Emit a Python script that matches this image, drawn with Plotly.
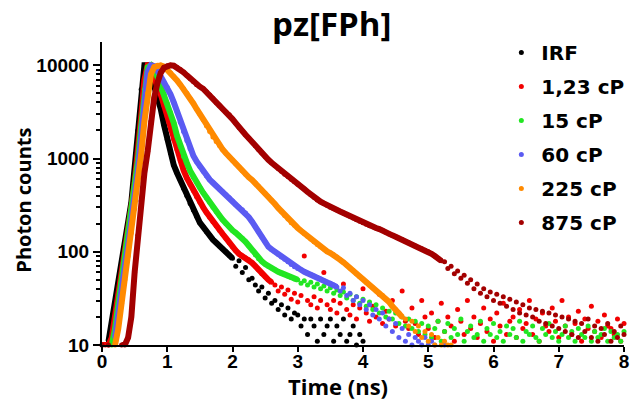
import plotly.graph_objects as go

time_ns = [round(i * 0.05, 2) for i in range(161)]

irf = ([None, None, 11, 18, 28, 45, 75, 120, 200, 340, 800, 2000, 5500, 10000, 10000, 8500, 6000, 4600, 3400, 2300]
       + [1600, 1150, 850, 700, 590, 480, 400, 330, 280, 240, 205, 185, 165, 150, 135, 125, 115, 108, 100, 92]
       + [85, 70, 80, 60, 68, 50, 52, 44, 38, 42, 32, 36, 28, 30, 24, 27, 21, 25, 19, 22]
       + [21, 16, 19, 13, 19, 16, 11, 19, 13, 16, 19, 11, 16, 13, 19, 11, 13, 16, 10, 13]
       + [11] + [None] * 19 + [None] * 60 + [None])

cp_1_23 = ([10, 10, 10, 12, 20, 35, 60, 100, 170, 300, 550, 1100, 2800, 7000, 10000, 10000, 7500, 5800, 4900, 3700]
           + [2800, 2100, 1600, 1250, 950, 750, 620, 530, 455, 390, 340, 300, 265, 235, 210, 190, 170, 155, 140, 125]
           + [113, 103, 95, 90, 86, 82, 76, 70, 64, 58, 54, 50, 47, 44, 38, 42, 35, 39, 31, 36]
           + [29, 34, 90, 30, 27, 33, 25, 30, 60, 27, 24, 30, 22, 28, 45, 24, 21, 27, 19, 25]
           + [40, 22, 18, 26, 20, 35, 17, 23, 19, 30, 16, 22, 38, 18, 15, 25, 17, 13, 30, 20]
           + [15, 22, 12, 18, 28, 14, 20, 16, 11, 24, 18, 13, 30, 15, 20, 12, 17, 25, 14, 19]
           + [11, 22, 16, 28, 13, 18, 20, 12, 24, 15, 17, 30, 13, 19, 11, 22, 16, 14, 25, 18]
           + [12, 30, 16, 20, 13, 17, 23, 11, 19, 15, 26, 14, 18, 12, 21, 16, 15, 13, 19, 11]
           + [17])

cp_15 = ([None, None, None, 10, 15, 28, 50, 90, 150, 260, 480, 950, 2200, 5500, 9500, 10000, 9000, 7500, 6000, 4900]
         + [3900, 3100, 2400, 1750, 1350, 1050, 900, 740, 630, 560, 490, 430, 380, 340, 300, 270, 245, 220, 200, 185]
         + [170, 160, 150, 140, 128, 116, 104, 93, 84, 79, 74, 70, 67, 64, 61, 59, 57, 55, 53, 51]
         + [50, 46, 49, 44, 47, 42, 45, 40, 43, 38, 41, 36, 39, 34, 37, 32, 35, 30, 33, 28]
         + [31, 26, 29, 24, 27, 22, 25, 20, 23, 19, 22, 17, 20, 16, 19, 15, 18, 14, 17, 13]
         + [16, 12, 15, 18, 11, 14, 17, 12, 15, 13, 19, 11, 14, 16, 12, 13, 18, 11, 15, 13]
         + [17, 12, 14, 11, 16, 13, 15, 12, 18, 11, 14, 13, 16, 12, 11, 15, 13, 17, 12, 14]
         + [11, 13, 16, 12, 14, 11, 15, 13, 12, 16, 11, 14, 12, 13, 15, 11, 14, 12, 13, 11]
         + [14])

cp_60 = ([None, None, None, None, 12, 20, 38, 70, 120, 210, 380, 750, 1700, 4200, 8500, 10000, 9800, 8800, 7600, 6600]
         + [5800, 4900, 4000, 3200, 2450, 1950, 1560, 1270, 1070, 930, 820, 730, 655, 595, 550, 510, 470, 440, 410, 380]
         + [350, 320, 300, 282, 260, 235, 210, 185, 165, 145, 127, 113, 106, 100, 94, 88, 83, 78, 73, 69]
         + [66, 64, 61, 59, 57, 55, 53, 51, 49, 47, 46, 44, 42, 38, 41, 34, 36, 30, 33, 27]
         + [30, 24, 27, 21, 24, 19, 22, 16, 19, 14, 17, 12, 15, 11, 13, 10, 12, 11, 10, 12]
         + [10, 11, 10, None, None, 10] + [None] * 14 + [None] * 40 + [None])

cp_225 = ([None, None, None, None, 10, 15, 28, 50, 90, 160, 290, 550, 1100, 2500, 5000, 8000, 9600, 10000, 10000, 9700]
          + [9000, 8300, 7600, 6900, 6200, 5600, 5000, 4400, 3900, 3400, 3000, 2600, 2250, 1950, 1700, 1520, 1380, 1250, 1140, 1040]
          + [960, 880, 810, 740, 680, 630, 590, 545, 500, 460, 425, 390, 355, 325, 295, 270, 245, 225, 205, 192]
          + [180, 168, 157, 147, 137, 128, 120, 113, 107, 101, 97, 93, 88, 82, 77, 72, 67, 63, 58, 54]
          + [51, 47, 44, 41, 38, 36, 34, 31, 29, 26, 24, 22, 20, 19, 16, 18, 14, 16, 12, 14]
          + [11, 13, 10, 12, 10, 11, 10, 10] + [None] * 12 + [None] * 40 + [None])

cp_875 = ([10, None, 10, None, None, None, 10, 10, 12, 20, 60, 150, 350, 700, 1200, 2500, 4500, 6500, 8300, 9400]
          + [9900, 10000, 9900, 9500, 9000, 8400, 7800, 7200, 6700, 6200, 5900, 5600, 5200, 4800, 4400, 4000, 3700, 3400, 3150, 2950]
          + [2650, 2400, 2150, 1970, 1800, 1650, 1500, 1370, 1250, 1150, 1050, 970, 900, 840, 780, 730, 680, 640, 600, 565]
          + [530, 500, 470, 440, 410, 385, 360, 345, 330, 315, 300, 290, 280, 270, 260, 250, 240, 230, 220, 212]
          + [205, 197, 190, 185, 180, 175, 170, 162, 155, 150, 145, 140, 135, 130, 125, 120, 115, 111, 108, 104]
          + [100, 95, 90, 85, 80, 78, 66, 70, 58, 62, 52, 56, 46, 50, 40, 45, 36, 40, 33, 37]
          + [30, 35, 28, 33, 26, 31, 24, 29, 22, 27, 21, 25, 20, 24, 18, 23, 17, 22, 16, 21]
          + [15, 20, 14, 19, 13, 18, 12, 17, 14, 19, 12, 16, 11, 15, 13, 17, 11, 14, 12, 16]
          + [13])

series_names = ["IRF", "1,23 cP", "15 cP", "60 cP", "225 cP", "875 cP"]
series_values = [irf, cp_1_23, cp_15, cp_60, cp_225, cp_875]

x_ticks = [0, 1, 2, 3, 4, 5, 6, 7, 8]
y_ticks = [10, 100, 1000, 10000]
y_tick_text = ["10", "100", "1000", "10000"]
y_minor = [m * 10 ** e for e in range(1, 4) for m in range(2, 10)]

# ---- styles ----
colors = ["#000000", "#f20000", "#22e622", "#5b5bf2", "#ff8a00", "#a30000"]
band_end = [2.0, 2.6, 3.0, 3.6, 4.6, 5.2]   # dense part drawn as a thick band

for v in series_values:
    assert len(v) == len(time_ns), len(v)

fig = go.Figure()
for name, vals, col, tend in zip(series_names, series_values, colors, band_end):
    bx = [t for t, c in zip(time_ns, vals) if t <= tend]
    by = [c for t, c in zip(time_ns, vals) if t <= tend]
    fig.add_trace(go.Scatter(x=bx, y=by, mode="lines", line=dict(color=col, width=6),
                             showlegend=False, legendgroup=name, hoverinfo="skip"))
    fig.add_trace(go.Scatter(x=time_ns, y=vals, mode="markers", name=name, legendgroup=name,
                             marker=dict(color=col, size=5), cliponaxis=False))

tick_font = dict(family="Liberation Sans, Arial, sans-serif", size=19, color="#000", weight="bold")
title_font = "Open Sans, Noto Sans, sans-serif"

fig.update_layout(
    width=638, height=402,
    margin=dict(l=102, r=9, t=42, b=57),
    paper_bgcolor="white", plot_bgcolor="white",
    showlegend=True,
    legend=dict(x=0.765, y=1.03, xanchor="left", yanchor="top",
                font=dict(family="DejaVu Sans, sans-serif", size=20, color="#000", weight="bold"),
                tracegroupgap=5, bgcolor="rgba(0,0,0,0)", itemwidth=30, maxheight=400),
    xaxis=dict(range=[0, 8], tickvals=x_ticks, ticks="outside", ticklen=5, tickwidth=2,
               tickcolor="#000", showline=True, linewidth=2, linecolor="#000",
               showgrid=False, zeroline=False, tickfont=tick_font, ticklabelstandoff=-7),
    yaxis=dict(type="log", range=[1, 4.25], tickvals=y_ticks, ticktext=y_tick_text,
               ticks="outside", ticklen=7, tickwidth=2, tickcolor="#000",
               showline=True, linewidth=2, linecolor="#000", showgrid=False, zeroline=False,
               tickfont=tick_font,
               minor=dict(tickvals=y_minor, ticks="outside", ticklen=4, tickwidth=1.5,
                          tickcolor="#000", showgrid=False)),
    annotations=[
        dict(text="pz[FPh]", xref="paper", yref="paper", x=0.44, y=1.06,
             xanchor="center", yanchor="middle", showarrow=False,
             font=dict(family=title_font, size=33, color="#000", weight="bold")),
        dict(text="Photon counts", xref="paper", yref="paper", x=-0.152, y=0.4785,
             xanchor="center", yanchor="middle", showarrow=False, textangle=-90,
             font=dict(family=title_font, size=20, color="#000", weight="bold")),
        dict(text="Time (ns)", xref="paper", yref="paper", x=0.4516, y=-0.1815,
             xanchor="center", yanchor="bottom", showarrow=False, height=26, borderpad=0,
             font=dict(family=title_font, size=22, color="#000", weight="bold")),
    ],
)

fig.write_html("out.html")
